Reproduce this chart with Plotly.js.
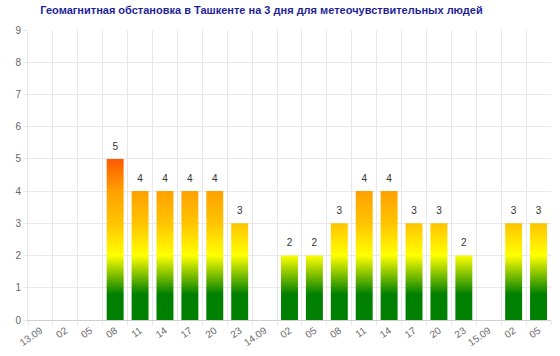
<!DOCTYPE html>
<html>
<head>
<meta charset="utf-8">
<script src="https://cdn.plot.ly/plotly-3.0.1.min.js"></script>
<style>html,body{margin:0;padding:0;background:#fff;}#chart{width:560px;height:356px;}</style>
</head>
<body>
<div id="chart"></div>
<script>
const labels = ["13.09","02","05","08","11","14","17","20","23","14.09","02","05","08","11","14","17","20","23","15.09","02","05"];
const values = [null,null,null,5,4,4,4,4,3,null,2,2,3,4,4,3,3,2,null,3,3];
const title = "Геомагнитная обстановка в Ташкенте на 3 дня для метеочувствительных людей";

const idx = labels.map((_, i) => i);
const half = 0.34;
const gradient = {
  type: 'vertical', start: 0, stop: 5,
  colorscale: [[0,'#008000'],[0.16,'#008000'],[0.4,'#ffff00'],[0.6,'#ffc400'],[0.8,'#ffa000'],[1,'#ff5a00']]
};
const traces = [];
values.forEach((v, i) => {
  if (v === null) return;
  traces.push({
    type: 'scatter', mode: 'none', fill: 'toself',
    x: [i-half, i+half, i+half, i-half, i-half],
    y: [0, 0, v, v, 0],
    fillgradient: gradient,
    hoverinfo: 'skip', showlegend: false
  });
});
traces.push({
  type: 'scatter', mode: 'markers+text',
  x: idx, y: values, text: values.map(v => v === null ? '' : String(v)),
  textposition: 'top center',
  marker: {size: 9, opacity: 0},
  textfont: {family: 'Liberation Sans, Arial, sans-serif', size: 10, color: '#333'},
  showlegend: false, hoverinfo: 'skip', cliponaxis: false
});

const layout = {
  width: 560, height: 356,
  margin: {l: 28, r: 9, t: 30, b: 36},
  paper_bgcolor: '#fff', plot_bgcolor: '#fff',
  font: {family: 'Liberation Sans, Arial, sans-serif', size: 10, color: '#666'},
  title: {text: '<b>' + title + '</b>', font: {size: 11, color: '#1f1f99', family: 'Liberation Sans, Arial, sans-serif'}, x: 0.467, xanchor: 'center', y: 0.972, yanchor: 'middle'},
  xaxis: {
    range: [-0.5, labels.length - 0.5], fixedrange: true,
    tickmode: 'array', tickvals: idx, ticktext: labels, tickangle: -35,
    ticks: '', showgrid: false, zeroline: false,
    showline: true, linecolor: '#cfcfcf', linewidth: 1,
    minor: {tick0: -0.5, dtick: 1, showgrid: true, gridcolor: '#e8e8e8', ticks: 'outside', ticklen: 4, tickcolor: '#e8e8e8'},
    tickfont: {size: 10, color: '#666'}
  },
  yaxis: {
    range: [0, 9], dtick: 1, fixedrange: true,
    showgrid: true, gridcolor: '#e8e8e8', zeroline: false,
    ticks: 'outside', ticklen: 4, tickcolor: '#e8e8e8',
    showline: true, linecolor: '#e8e8e8',
    tickfont: {size: 10, color: '#666'}
  }
};
Plotly.newPlot('chart', traces, layout, {displayModeBar: false, staticPlot: true});
</script>
</body>
</html>
